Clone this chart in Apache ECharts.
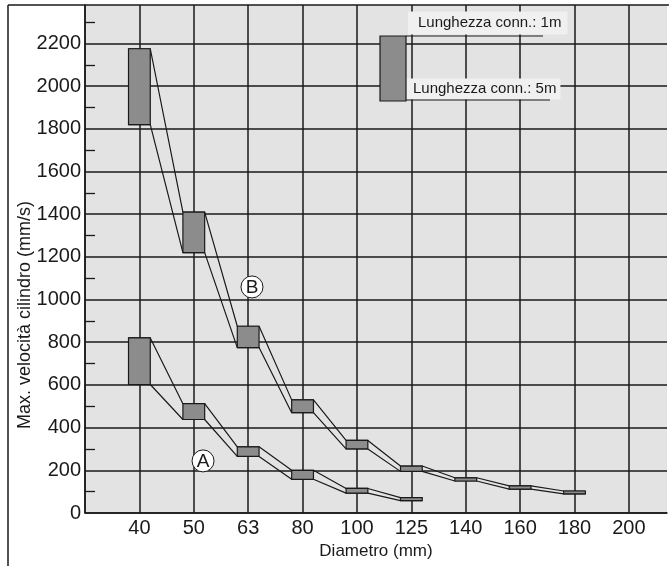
<!DOCTYPE html>
<html>
<head>
<meta charset="utf-8">
<script src="https://cdn.jsdelivr.net/npm/echarts@6.0.0/dist/echarts.min.js"></script>
<style>
  html, body { margin: 0; padding: 0; background: #fff; }
  #myChart { width: 669px; height: 566px; }
</style>
</head>
<body>
<div id="myChart"></div>
<script>
  // diametri sull'asse x (posizione 0 = asse y, vuota)
  const diamLabels = ['', '40', '50', '63', '80', '100', '125', '140', '160', '180', '200'];

  // curva A: indice diametro, velocità min (5m) e max (1m)
  const aPos = [1, 2, 3, 4, 5, 6];
  const aLow = [602, 438, 265, 158, 93, 58];
  const aHigh = [820, 512, 310, 200, 115, 72];

  // curva B
  const bPos = [1, 2, 3, 4, 5, 6, 7, 8, 9];
  const bLow = [1820, 1220, 775, 470, 300, 195, 150, 112, 90];
  const bHigh = [2175, 1410, 875, 530, 340, 220, 165, 127, 103];

  const yTicks = [0, 200, 400, 600, 800, 1000, 1200, 1400, 1600, 1800, 2000, 2200];

  const boxHalf = 0.2;
  const ink = '#1a1a1a';
  const font = 'Liberation Sans';

  function edgePoints (pos, vals) {
    let pts = [];
    for (let i = 0; i < pos.length; i++) {
      pts.push([pos[i] - boxHalf, vals[i]]);
      pts.push([pos[i] + boxHalf, vals[i]]);
    }
    return pts;
  }

  function boxData (pos, lo, hi) {
    return pos.map((p, i) => [p, lo[i], hi[i]]);
  }

  function renderBox (params, api) {
    let x = api.value(0);
    let p1 = api.coord([x - boxHalf, api.value(2)]);
    let p2 = api.coord([x + boxHalf, api.value(1)]);
    return {
      type: 'rect',
      shape: { x: p1[0], y: p1[1], width: p2[0] - p1[0], height: p2[1] - p1[1] },
      style: { fill: '#8c8c8c', stroke: ink, lineWidth: 1.2 }
    };
  }

  function bandLine (data) {
    return {
      type: 'line',
      data: data,
      symbol: 'none',
      silent: true,
      lineStyle: { color: ink, width: 1.2 },
      z: 3
    };
  }

  let option = {
    animation: false,
    textStyle: { fontFamily: font },
    grid: {
      left: 85, right: 2, top: 5, bottom: 53,
      outerBoundsMode: 'none',
      show: true,
      backgroundColor: '#e3e3e3',
      borderWidth: 0
    },
    xAxis: {
      type: 'value',
      min: 0,
      max: 10.7,
      interval: 1,
      name: 'Diametro (mm)',
      nameLocation: 'middle',
      nameGap: 30,
      nameTextStyle: { fontSize: 17, color: ink },
      axisLine: { show: true, lineStyle: { color: ink, width: 1.5 } },
      axisTick: { show: false },
      axisLabel: {
        fontSize: 20,
        color: ink,
        margin: 5,
        showMaxLabel: false,
        formatter: v => Number.isInteger(v) ? (diamLabels[v] || '') : ''
      },
      splitLine: { show: true, showMaxLine: false, lineStyle: { color: ink, width: 1.5 } }
    },
    yAxis: {
      type: 'value',
      min: 0,
      max: 2380,
      interval: 200,
      axisLine: { show: true, lineStyle: { color: ink, width: 1.5 } },
      axisTick: { show: false, inside: true },
      minorTick: { show: true, splitNumber: 2, length: 10, lineStyle: { color: ink, width: 1.3 } },
      axisLabel: {
        fontSize: 20,
        color: ink,
        margin: 4,
        showMaxLabel: false,
        formatter: v => yTicks.indexOf(v) >= 0 ? String(v) : ''
      },
      splitLine: { show: true, showMaxLine: false, lineStyle: { color: ink, width: 1.5 } }
    },
    series: [
      bandLine(edgePoints(aPos, aHigh)),
      bandLine(edgePoints(aPos, aLow)),
      bandLine(edgePoints(bPos, bHigh)),
      bandLine(edgePoints(bPos, bLow)),
      {
        type: 'custom',
        renderItem: renderBox,
        data: boxData(aPos, aLow, aHigh),
        encode: { x: 0, y: [1, 2] },
        z: 4
      },
      {
        type: 'custom',
        renderItem: renderBox,
        data: boxData(bPos, bLow, bHigh),
        encode: { x: 0, y: [1, 2] },
        z: 4
      }
    ]
  };

  let myChart = echarts.init(document.getElementById('myChart'));
  myChart.setOption(option);

  // etichette cerchiate A / B, posizionate in coordinate dati
  let pA = myChart.convertToPixel({ gridIndex: 0 }, [2.17, 244]);
  let pB = myChart.convertToPixel({ gridIndex: 0 }, [3.07, 1059]);

  function circled (p, txt) {
    return [
      { type: 'circle', shape: { cx: p[0], cy: p[1], r: 11 }, style: { fill: '#fff', stroke: ink, lineWidth: 1 }, z: 10 },
      { type: 'text', x: p[0], y: p[1] + 1, style: { text: txt, fontSize: 19, fontFamily: font, fill: ink, align: 'center', verticalAlign: 'middle' }, z: 11 }
    ];
  }

  let graphics = [
    // cornice
    { type: 'line', shape: { x1: 8, y1: 5, x2: 669, y2: 5 }, style: { stroke: ink, lineWidth: 1.5 }, z: 20 },
    { type: 'line', shape: { x1: 8, y1: 5, x2: 8, y2: 566 }, style: { stroke: ink, lineWidth: 1.5 }, z: 20 },
    // titolo asse y
    {
      type: 'text', x: 25, y: 315, rotation: Math.PI / 2,
      style: { text: 'Max. velocità cilindro (mm/s)', fontSize: 18, fontFamily: font, fill: ink, align: 'center', verticalAlign: 'middle' },
      z: 20
    },
    // legenda
    {
      type: 'text', x: 408, y: 23,
      style: { text: 'Lunghezza conn.: 1m', fontSize: 15, fontFamily: font, fill: ink, align: 'left', verticalAlign: 'middle', backgroundColor: '#f0f0f0', padding: [4, 6, 4, 10] },
      z: 20
    },
    {
      type: 'text', x: 404, y: 89,
      style: { text: 'Lunghezza conn.: 5m', fontSize: 15, fontFamily: font, fill: ink, align: 'left', verticalAlign: 'middle', backgroundColor: '#f0f0f0', padding: [3, 4, 3, 9] },
      z: 20
    },
    { type: 'rect', shape: { x: 380, y: 36, width: 26, height: 65 }, style: { fill: '#8c8c8c', stroke: ink, lineWidth: 1.2 }, z: 21 },
    { type: 'line', shape: { x1: 406, y1: 36, x2: 543, y2: 36 }, style: { stroke: ink, lineWidth: 1.2 }, z: 21 },
    { type: 'line', shape: { x1: 406, y1: 100, x2: 550, y2: 100 }, style: { stroke: ink, lineWidth: 1.2 }, z: 21 }
  ].concat(circled(pA, 'A'), circled(pB, 'B'));

  myChart.setOption({ graphic: graphics });
</script>
</body>
</html>
